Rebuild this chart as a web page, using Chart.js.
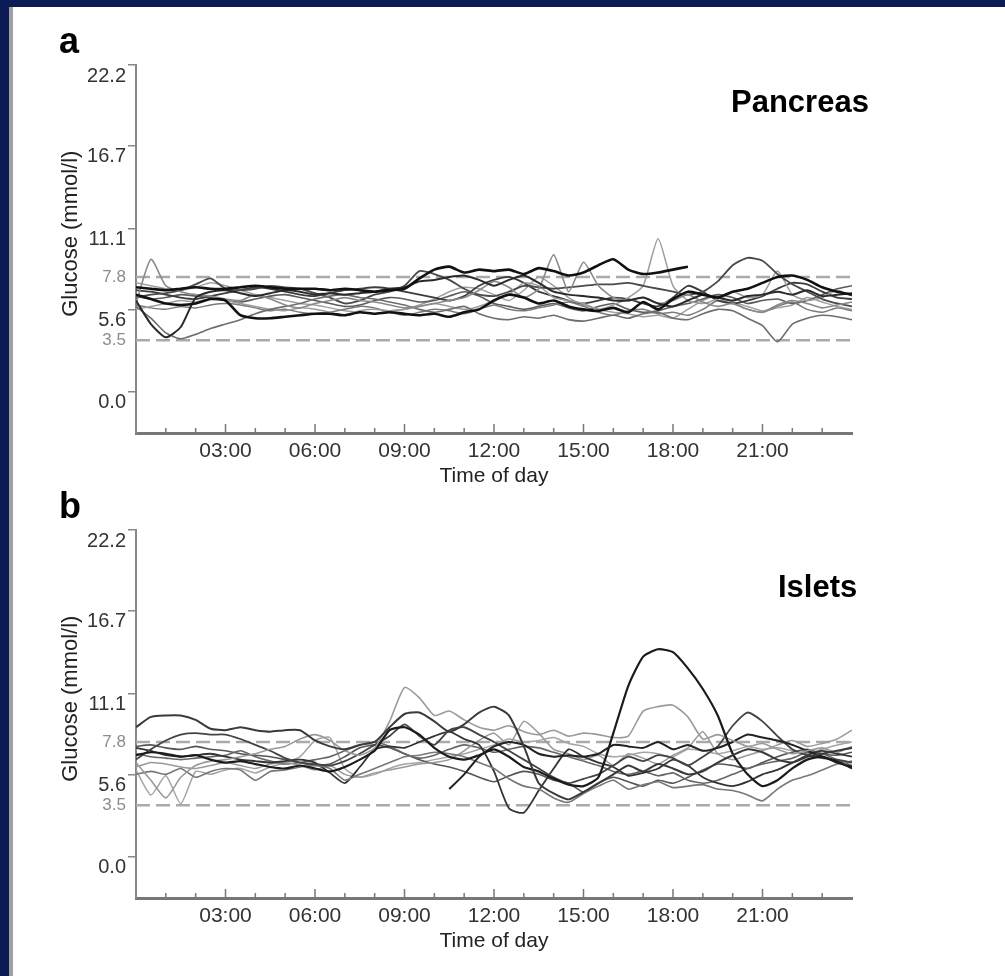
<!DOCTYPE html>
<html>
<head>
<meta charset="utf-8">
<script src="https://cdn.jsdelivr.net/npm/chart.js@4.4.0/dist/chart.umd.min.js"></script>
<style>
  body { margin: 0; background: #0b1b56; width: 1005px; height: 976px; overflow: hidden; font-family: "Liberation Sans", Arial, sans-serif; }
  #folha { position: absolute; left: 13px; top: 7px; right: 0; bottom: 0; background: #fff; }
  #borda { position: absolute; left: 9px; top: 7px; width: 4px; bottom: 0; background: #a0a0a0; }
  .painel { position: absolute; left: 13px; width: 992px; height: 500px; }
  .rotulo { position: absolute; font-weight: bold; color: #000; line-height: 1; white-space: nowrap; }
</style>
</head>
<body>
<div id="folha"></div>
<div id="borda"></div>
<div class="painel" style="top:7px"><canvas id="graficoPancreas"></canvas></div>
<div class="painel" style="top:472px"><canvas id="graficoIslets"></canvas></div>
<div class="rotulo" style="left:59px;top:23px;font-size:36px">a</div>
<div class="rotulo" style="left:731px;top:86px;font-size:31px">Pancreas</div>
<div class="rotulo" style="left:59px;top:488px;font-size:36px">b</div>
<div class="rotulo" style="left:778px;top:571px;font-size:31px">Islets</div>
<script>
// horas do dia (a cada meia hora)
const horas = [0, 0.5, 1, 1.5, 2, 2.5, 3, 3.5, 4, 4.5,
  5, 5.5, 6, 6.5, 7, 7.5, 8, 8.5, 9, 9.5,
  10, 10.5, 11, 11.5, 12, 12.5, 13, 13.5, 14, 14.5,
  15, 15.5, 16, 16.5, 17, 17.5, 18, 18.5, 19, 19.5,
  20, 20.5, 21, 21.5, 22, 22.5, 23, 23.5, 24];
const ticksHora = [3, 6, 9, 12, 15, 18, 21];
const ticksGlicose = [0, 5.6, 11.1, 16.7, 22.2];
const referencias = [7.8, 3.5];

// Pancreas (mmol/l)
const pancreas1 = [7.1, 7.0, 6.9, 7.0, 7.1, 7.0, 7.0, 7.1, 7.2, 7.1,
  7.0, 7.0, 7.0, 6.9, 7.0, 6.9, 6.8, 6.9, 7.0, 7.7,
  8.3, 8.5, 8.1, 8.3, 8.2, 8.3, 8.0, 8.4, 8.2, 7.9,
  8.1, 8.6, 9.0, 8.3, 8.0, 8.1, 8.3, 8.5, null, null,
  null, null, null, null, null, null, null, null, null];
const pancreas2 = [6.6, 6.3, 6.0, 5.9, 6.0, 6.3, 6.2, 5.2, 5.0, 5.0,
  5.1, 5.2, 5.3, 5.3, 5.2, 5.4, 5.3, 5.4, 5.3, 5.2,
  5.3, 5.1, 5.4, 5.6, 6.2, 6.6, 6.4, 6.0, 6.2, 5.8,
  5.6, 5.5, 5.7, 5.4, 6.1, 5.6, 6.3, 6.8, 6.6, 6.4,
  6.8, 7.0, 7.4, 7.8, 7.9, 7.6, 7.1, 6.8, 6.6];
const pancreas3 = [6.2, 4.6, 3.7, 4.4, 6.4, 6.8, 6.9, 6.7, 6.5, 6.7,
  6.9, 6.8, 6.6, 6.7, 6.6, 6.7, 6.8, 7.0, 7.1, 7.5,
  7.6, 7.8, 7.9, 7.6, 7.2, 7.6, 7.9, 7.4, 6.8, 6.6,
  6.5, 6.4, 6.2, 6.2, 6.4, 6.0, 5.8, 6.2, 6.6, 6.4,
  6.2, 6.5, 6.6, 6.8, 6.6, 6.9, 6.5, 6.6, 6.7];
const pancreas4 = [6.0, 9.0, 7.2, 6.8, 6.6, 6.5, 6.3, 6.2, 6.6, 6.3,
  5.9, 5.7, 6.0, 6.2, 6.4, 6.2, 6.1, 5.9, 5.7, 5.8,
  6.0, 6.2, 6.4, 6.9, 7.5, 7.1, 6.4, 7.0, 9.3, 6.8,
  8.8, 7.2, 6.4, 6.2, 6.4, 6.0, 6.2, 6.6, 6.1, 5.8,
  6.0, 5.6, 5.4, 5.9, 6.2, 6.0, 5.7, 5.9, 6.1];
const pancreas5 = [5.8, 5.0, 4.0, 3.6, 3.9, 4.3, 4.6, 4.9, 5.3, 5.6,
  5.8, 6.0, 6.3, 6.5, 6.6, 6.4, 6.3, 6.1, 5.9, 5.6,
  5.4, 5.6, 5.8, 5.3, 5.0, 4.9, 5.1, 5.0, 5.2, 4.9,
  4.8, 5.0, 5.2, 5.0, 5.3, 5.4, 5.0, 4.9, 5.3, 5.6,
  5.5, 5.0, 4.5, 3.4, 4.6, 5.0, 5.2, 5.1, 4.9];
const pancreas6 = [6.4, 6.6, 6.7, 6.9, 7.3, 7.7, 7.0, 6.9, 7.0, 7.2,
  7.1, 7.0, 6.7, 6.4, 6.0, 6.2, 6.6, 6.8, 7.2, 8.2,
  8.0, 7.6, 7.0, 6.6, 6.5, 6.8, 7.2, 7.1, 7.0, 7.1,
  7.2, 7.3, 7.3, 7.4, 7.2, 7.0, 6.8, 6.6, 6.8, 7.5,
  8.6, 9.1, 8.9, 8.0, 7.3, 6.8, 6.3, 6.0, 5.8];
const pancreas7 = [5.6, 5.8, 6.0, 6.2, 6.1, 6.3, 6.2, 6.0, 5.8, 5.6,
  5.5, 5.7, 5.6, 5.4, 5.2, 5.5, 5.6, 5.5, 5.6, 5.8,
  6.0, 5.8, 5.6, 5.8, 6.2, 6.6, 7.4, 7.2, 6.4, 6.2,
  6.0, 5.6, 5.9, 6.4, 7.2, 10.4, 7.2, 6.2, 6.0, 6.3,
  6.8, 6.4, 6.6, 8.2, 6.6, 6.2, 6.4, 6.9, 6.5];
const pancreas8 = [6.9, 6.8, 6.6, 6.4, 6.3, 6.5, 6.7, 6.9, 7.1, 7.0,
  6.8, 6.6, 6.5, 6.7, 6.9, 7.0, 7.1, 7.0, 6.8, 6.6,
  6.4, 6.2, 6.5, 7.2, 7.6, 7.8, 7.4, 6.8, 6.5, 6.2,
  6.0, 6.2, 6.4, 6.3, 6.0, 5.8, 6.4, 7.2, 6.8, 6.2,
  6.0, 6.2, 6.5, 7.0, 7.4, 7.3, 6.8, 6.4, 6.3];
const pancreas9 = [5.9, 5.7, 5.6, 5.8, 5.7, 5.9, 6.0, 5.9, 5.7, 5.5,
  5.6, 5.4, 5.3, 5.4, 5.6, 5.8, 5.7, 5.4, 5.2, 5.4,
  5.6, 5.5, 5.3, 5.6, 5.9, 5.6, 5.5, 5.7, 5.9, 6.1,
  5.8, 5.4, 5.2, 5.5, 5.6, 5.3, 5.4, 5.2, 5.6, 6.2,
  6.0, 5.6, 5.4, 5.8, 6.1, 5.6, 5.4, 5.7, 5.5];
const pancreas10 = [6.5, 6.3, 6.4, 6.6, 6.5, 6.4, 6.2, 6.1, 6.3, 6.5,
  6.6, 6.4, 6.2, 6.0, 5.8, 5.9, 6.2, 6.4, 6.3, 6.1,
  6.2, 6.5, 6.8, 6.5, 6.0, 5.8, 5.6, 5.8, 6.0, 5.7,
  5.5, 5.8, 6.0, 5.6, 5.4, 5.5, 5.8, 6.0, 6.3, 6.6,
  6.4, 6.0, 6.2, 6.3, 6.0, 6.2, 6.6, 7.0, 7.2];
const pancreas11 = [7.4, 7.2, 7.0, 6.9, 7.1, 7.4, 7.2, 6.9, 6.6, 6.4,
  6.2, 6.0, 5.9, 5.7, 5.5, 5.4, 5.3, 5.5, 5.6, 5.9,
  6.3, 6.8, 7.1, 7.0, 6.6, 6.2, 6.9, 7.8, 7.2, 6.4,
  5.9, 5.6, 5.4, 5.3, 5.1, 5.2, 5.0, 5.6, 6.2, 6.5,
  6.1, 5.8, 5.5, 5.7, 5.9, 6.4, 6.1, 5.8, 5.6];

// Islets (mmol/l)
const islets1 = [8.8, 9.5, 9.6, 9.6, 9.3, 8.7, 8.6, 8.8, 8.6, 8.5,
  8.6, 8.6, 7.9, 7.5, 7.3, 7.6, 7.8, 8.8, 9.7, 9.8,
  9.2, 8.5, 9.0, 9.8, 10.2, 9.6, 7.5, 5.0, 4.3, 3.9,
  4.4, 5.0, 5.6, 6.2, 5.8, 6.3, 6.0, 5.6, 5.8, 6.4,
  6.9, 7.3, 7.1, 6.6, 6.4, 6.8, 7.0, 7.2, 7.4];
const islets2 = [6.9, 7.1, 7.0, 6.8, 6.9, 6.6, 6.4, 6.5, 6.3, 6.1,
  6.0, 6.2, 6.0, 5.8, 6.1, 6.6, 7.2, 8.6, 8.8, 8.3,
  7.4, 6.8, 6.6, 6.9, 7.3, 6.8, 6.1, 5.8, 5.3, 4.9,
  4.8, 5.4, 8.4, 11.6, 13.6, 14.1, 13.9, 12.8, 11.4, 9.6,
  7.0, 5.6, 4.8, 5.2, 6.0, 6.6, 6.8, 6.4, 6.1];
const islets3 = [6.4, 5.2, 4.0, 5.4, 6.2, 6.5, 6.6, 6.8, 7.0, 7.3,
  7.5, 8.0, 8.3, 7.9, 7.2, 6.9, 7.4, 9.2, 11.5, 10.8,
  9.6, 9.9, 9.3, 8.8, 8.6, 8.9, 8.5, 8.3, 8.6, 8.2,
  8.4, 8.3, 8.1, 8.2, 9.9, 10.2, 10.3, 9.5, 8.0, 8.3,
  7.9, 7.5, 7.7, 7.3, 7.0, 7.2, 7.4, 7.1, 7.5];
const islets4 = [null, null, null, null, null, null, null, null, null, null,
  null, null, null, null, null, null, null, null, null, null,
  null, 4.6, 5.6, 6.8, 7.5, 7.8, 7.6, 7.0, 6.8, 6.9,
  6.8, 7.0, 7.6, 7.5, 7.4, 7.8, 7.3, 7.6, 7.2, 7.4,
  7.8, 8.3, 8.1, 7.9, 7.6, 7.2, 6.8, 6.5, 6.0];
const islets5 = [6.6, 7.3, 7.9, 8.3, 8.4, 8.3, 8.3, 8.0, 7.6, 7.2,
  6.7, 6.4, 6.3, 6.2, 6.5, 7.0, 7.6, 8.2, 9.0, 8.2,
  7.6, 8.6, 8.8, 8.3, 7.8, 7.2, 6.6, 6.0, 5.4, 5.0,
  5.3, 5.6, 6.2, 6.8, 6.5, 6.9, 6.7, 6.2, 6.8, 7.5,
  8.9, 9.8, 9.2, 8.2, 7.3, 6.9, 6.7, 6.6, 6.4];
const islets6 = [5.6, 5.8, 5.6, 6.0, 5.4, 5.8, 6.0, 5.9, 5.2, 5.8,
  5.9, 6.1, 6.2, 6.0, 5.2, 5.6, 6.0, 6.4, 6.8, 6.9,
  7.1, 7.0, 6.8, 6.4, 6.0, 5.3, 4.8, 4.6, 4.0, 3.7,
  4.3, 4.8, 5.2, 4.6, 4.9, 5.1, 4.7, 4.8, 4.9, 4.6,
  4.5, 4.2, 3.8, 4.6, 5.2, 5.5, 5.9, 6.3, 6.5];
const islets7 = [7.4, 7.2, 6.9, 6.8, 6.9, 7.0, 6.8, 6.6, 6.5, 6.4,
  6.5, 6.6, 6.4, 5.7, 5.0, 6.1, 7.3, 7.5, 7.4, 7.8,
  8.2, 8.5, 8.0, 7.6, 5.8, 3.3, 3.0, 4.5, 6.0, 7.3,
  6.8, 6.4, 6.1, 5.5, 5.7, 6.0, 6.6, 6.2, 5.4, 5.0,
  4.8, 5.1, 5.6, 5.9, 6.4, 6.9, 7.2, 7.0, 6.8];
const islets8 = [6.1, 6.4, 6.3, 6.1, 6.0, 6.2, 6.4, 6.2, 6.0, 6.3,
  6.4, 6.2, 5.9, 6.2, 5.6, 5.4, 5.7, 5.9, 6.1, 6.3,
  6.4, 6.6, 7.2, 7.9, 8.4, 7.6, 9.2, 8.4, 7.3, 7.0,
  6.6, 6.9, 6.2, 7.0, 6.7, 6.3, 6.9, 7.4, 8.5, 7.0,
  6.6, 6.9, 7.2, 7.6, 7.9, 7.5, 7.7, 8.0, 8.6];
const islets9 = [7.0, 6.8, 6.7, 6.6, 6.7, 6.8, 6.9, 7.2, 6.8, 6.5,
  6.3, 6.4, 6.6, 6.8, 7.2, 7.6, 7.8, 7.5, 7.0, 6.7,
  6.9, 7.3, 7.6, 7.4, 7.1, 7.3, 7.5, 7.4, 7.1, 6.8,
  6.5, 6.2, 5.8, 5.6, 5.8, 5.5, 5.7, 5.2, 5.0, 5.2,
  5.6, 6.0, 6.3, 6.5, 6.7, 7.1, 7.0, 6.6, 6.2];
const islets10 = [7.5, 7.6, 7.4, 7.3, 7.5, 7.3, 7.2, 7.0, 6.9, 6.8,
  6.6, 6.4, 6.2, 6.3, 6.8, 7.4, 7.6, 7.4, 7.0, 6.6,
  6.3, 6.1, 5.8, 5.4, 5.1, 5.5, 5.8, 5.6, 5.2, 5.0,
  4.4, 5.0, 5.4, 5.1, 4.8, 5.2, 5.0, 5.4, 5.9, 6.3,
  6.2, 6.0, 6.4, 6.8, 7.1, 7.3, 7.0, 6.9, 7.1];
const islets11 = [5.9, 4.2, 5.5, 3.6, 5.8, 5.6, 5.9, 6.0, 5.7, 6.1,
  6.4, 6.8, 7.9, 8.1, 6.0, 5.4, 5.6, 6.0, 6.3, 6.4,
  6.6, 6.8, 7.0, 7.3, 7.6, 8.0, 7.8, 7.9, 8.1, 7.7,
  7.5, 7.0, 6.8, 6.9, 7.1, 7.0, 6.8, 7.3, 7.2, 7.0,
  7.2, 7.5, 7.3, 7.4, 7.2, 7.0, 7.3, 7.6, 7.8];

// cor e espessura de cada curva
const estilosPancreas = [['#111', 2.6], ['#111', 2.6], ['#2a2a2a', 2], ['#8a8a8a', 1.6], ['#6e6e6e', 1.6],
  ['#4a4a4a', 1.8], ['#9c9c9c', 1.5], ['#3c3c3c', 1.8], ['#7a7a7a', 1.5], ['#5c5c5c', 1.6], ['#a0a0a0', 1.5]];
const estilosIslets = [['#3a3a3a', 2], ['#1b1b1b', 2.2], ['#9a9a9a', 1.6], ['#222', 2], ['#444', 1.8],
  ['#777', 1.6], ['#333', 1.8], ['#9a9a9a', 1.5], ['#666', 1.6], ['#555', 1.6], ['#a5a5a5', 1.5]];

function ehReferencia(valor) {
  return referencias.includes(valor);
}

function tickDeReferencia(ctx) {
  return !!ctx.tick && ehReferencia(ctx.tick.value);
}

function formataHora(valor) {
  return (valor < 10 ? '0' : '') + valor + ':00';
}

// marcas pequenas do eixo x, voltadas para dentro
const marcasHora = {
  id: 'marcasHora',
  afterDraw(chart) {
    const {ctx, chartArea, scales} = chart;
    ctx.save();
    ctx.strokeStyle = '#777';
    ctx.lineWidth = 1.5;
    for (let h = 1; h < 24; h++) {
      const x = scales.x.getPixelForValue(h);
      const tamanho = h % 3 === 0 ? 9 : 5;
      ctx.beginPath();
      ctx.moveTo(x, chartArea.bottom);
      ctx.lineTo(x, chartArea.bottom - tamanho);
      ctx.stroke();
    }
    ctx.restore();
  }
};

function criaGrafico(id, series, estilos) {
  const datasets = series.map((valores, i) => ({
    data: horas.map((h, j) => ({x: h, y: valores[j]})),
    borderColor: estilos[i][0],
    borderWidth: estilos[i][1],
    pointRadius: 0,
    tension: 0.2,
    order: i
  }));
  referencias.forEach(nivel => {
    datasets.push({
      data: [{x: horas[0], y: nivel}, {x: horas[horas.length - 1], y: nivel}],
      borderColor: '#aaa',
      borderWidth: 2.5,
      borderDash: [14, 6],
      pointRadius: 0,
      order: 50
    });
  });

  return new Chart(document.getElementById(id), {
    type: 'line',
    data: {datasets},
    plugins: [marcasHora],
    options: {
      responsive: true,
      maintainAspectRatio: false,
      animation: false,
      layout: {padding: {left: 46, right: 153, top: 58, bottom: 14}},
      plugins: {legend: {display: false}, tooltip: {enabled: false}},
      scales: {
        x: {
          type: 'linear',
          min: 0,
          max: 24,
          afterBuildTicks: scale => { scale.ticks = ticksHora.map(v => ({value: v})); },
          afterFit: scale => { scale.height = 60; },
          grid: {display: false, drawTicks: false},
          border: {color: '#777', width: 3},
          ticks: {
            color: '#333',
            font: {family: 'Liberation Sans', size: 21},
            padding: 6,
            autoSkip: false,
            maxRotation: 0,
            callback: formataHora
          },
          title: {
            display: true,
            text: 'Time of day',
            color: '#222',
            font: {family: 'Liberation Sans', size: 21},
            padding: {top: 0, bottom: 4}
          }
        },
        y: {
          min: -2.8,
          max: 22.2,
          afterBuildTicks: scale => {
            scale.ticks = ticksGlicose.concat(referencias).map(v => ({value: v}));
          },
          afterFit: scale => { scale.width = 77; },
          grid: {
            drawOnChartArea: false,
            tickLength: 8,
            lineWidth: 1.5,
            color: ctx => tickDeReferencia(ctx) ? 'rgba(0,0,0,0)' : '#888'
          },
          border: {color: '#888', width: 2},
          ticks: {
            autoSkip: false,
            padding: 2,
            color: ctx => tickDeReferencia(ctx) ? '#8c8c8c' : '#333',
            font: ctx => tickDeReferencia(ctx)
              ? {family: 'Liberation Sans', size: 17, lineHeight: 1.2}
              : {family: 'Liberation Sans', size: 20, lineHeight: 1.1},
            callback: valor => ehReferencia(valor) ? valor.toFixed(1) : ['', valor.toFixed(1)]
          },
          title: {
            display: true,
            text: '     Glucose (mmol/l)',
            color: '#222',
            font: {family: 'Liberation Sans', size: 22, lineHeight: 1.1},
            padding: {top: 0, bottom: 0}
          }
        }
      }
    }
  });
}

criaGrafico('graficoPancreas',
  [pancreas1, pancreas2, pancreas3, pancreas4, pancreas5, pancreas6, pancreas7, pancreas8, pancreas9, pancreas10, pancreas11],
  estilosPancreas);
criaGrafico('graficoIslets',
  [islets1, islets2, islets3, islets4, islets5, islets6, islets7, islets8, islets9, islets10, islets11],
  estilosIslets);
</script>
</body>
</html>
